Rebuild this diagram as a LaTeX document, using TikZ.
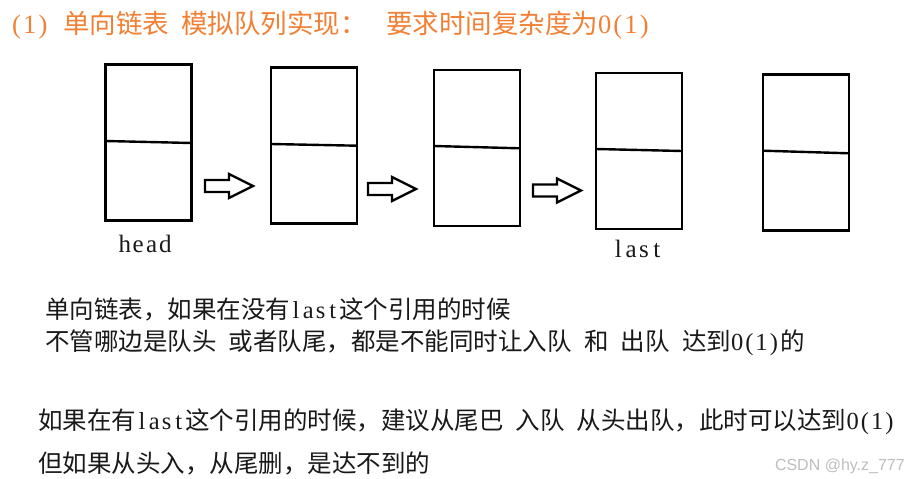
\documentclass[tikz,border=0pt]{standalone}
\usepackage{fontspec}
\setmainfont{Liberation Serif}
\newfontfamily\cjk{Noto Sans CJK SC}
\newfontfamily\wmfont{Liberation Sans}
\definecolor{titleorange}{RGB}{242,128,52}
\definecolor{wmgray}{RGB}{190,190,190}
\definecolor{bodyblack}{RGB}{25,25,25}
\newcommand\hwc[1]{\makebox[12.25pt]{\rmfamily #1}}
\newcommand\hwt[1]{\makebox[13.25pt]{\rmfamily #1}}
\newcommand\hsp{\hspace*{12.25pt}}
\newcommand\lblc[1]{\makebox[13.5pt]{#1}}
\newcommand\lbll[1]{\makebox[12.8pt]{#1}}
\newcommand\lastw{\hwc{l}\hwc{a}\hwc{s}\hwc{t}}
\newcommand\Oonew{\hwc{0}\hwc{(}\hwc{1}\hwc{)}}
\tikzset{
  cell/.style={draw, line width=2.4pt, minimum width=86pt, minimum height=156pt, inner sep=0pt, outer sep=0pt},
  divline/.style={line width=2.4pt},
  arrline/.style={draw, fill=white, line width=2.4pt, line join=miter},
  blockarr/.pic={\draw[arrline] (0,-6) -- (24,-6) -- (24,-12) -- (48,0) -- (24,12) -- (24,6) -- (0,6) -- cycle;},
  txt/.style={anchor=base west, inner sep=0pt, outer sep=0pt},
  titletxt/.style={txt, text=titleorange, font=\cjk\fontsize{26.5}{30}\selectfont},
  bodytxt/.style={txt, text=bodyblack, font=\cjk\fontsize{24.5}{29}\selectfont},
  lbltxt/.style={txt, text=bodyblack, font=\rmfamily\fontsize{25}{30}\selectfont},
  wmtxt/.style={txt, text=wmgray, font=\wmfont\fontsize{16}{19}\selectfont}
}
\begin{document}
\begin{tikzpicture}[x=1pt,y=-1pt]
\useasboundingbox[fill=white] (0,0) rectangle (918,479);
% title
\node[titletxt] (t1) at (10,33) {\hwt{(}\hwt{1}\hwt{)}};
\node[titletxt] (t2) at (63,33) {单向链表};
\node[titletxt] (t3) at (181,33) {模拟队列实现：};
\node[titletxt] (t4) at (386,33) {要求时间复杂度为\hwt{0}\hwt{(}\hwt{1}\hwt{)}};
% boxes
\node[cell] (b1) at (148.5,142.5) {};
\node[cell] (b2) at (314,145.5) {};
\node[cell] (b3) at (477,148) {};
\node[cell] (b4) at (639,151) {};
\node[cell] (b5) at (806,152.5) {};
\draw[divline] ([yshift=1.5pt]b1.west) -- ([yshift=-0.5pt]b1.east);
\draw[divline] ([yshift=1.5pt]b2.west) -- ([yshift=-0.2pt]b2.east);
\draw[divline] ([yshift=2pt]b3.west) -- ([yshift=-0.3pt]b3.east);
\draw[divline] ([yshift=2pt]b4.west) -- ([yshift=0pt]b4.east);
\draw[divline] ([yshift=1.8pt]b5.west) -- ([yshift=-0.8pt]b5.east);
% block arrows
\pic (a1) at (205,186) {blockarr};
\pic (a2) at (368,189) {blockarr};
\pic (a3) at (533,190.5) {blockarr};
% labels
\node[lbltxt] (head) at (118,252) {\lblc{h}\lblc{e}\lblc{a}\lblc{d}};
\node[lbltxt] (last) at (612,257) {\lbll{l}\lbll{a}\lbll{s}\lbll{t}};
% body text
\node[bodytxt] (l1) at (45,318) {单向链表，如果在没有\lastw 这个引用的时候};
\node[bodytxt] (l2) at (45,350) {不管哪边是队头\hsp 或者队尾，都是不能同时让入队\hsp 和\hsp 出队\hsp 达到\Oonew 的};
\node[bodytxt] (l3) at (38,429) {如果在有\lastw 这个引用的时候，建议从尾巴\hsp 入队\hsp 从头出队，此时可以达到\Oonew};
\node[bodytxt] (l4) at (38,472) {但如果从头入，从尾删，是达不到的};
% watermark
\node[wmtxt] (wm) at (775,470) {CSDN @hy.z\_777};
\end{tikzpicture}
\end{document}
